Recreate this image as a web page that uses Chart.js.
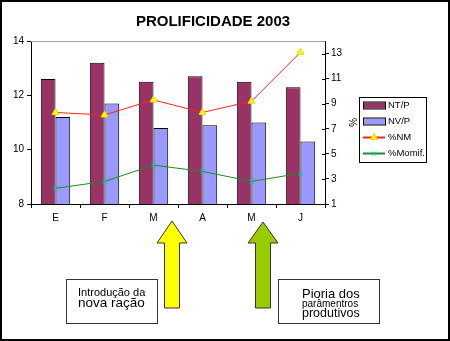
<!DOCTYPE html>
<html>
<head>
<meta charset="utf-8">
<title>Prolificidade 2003</title>
<script src="https://cdn.jsdelivr.net/npm/chart.js@4.4.0/dist/chart.umd.min.js"></script>
<style>
  html, body { margin: 0; padding: 0; background: #fff; }
  #wrap { width: 450px; height: 341px; }
</style>
</head>
<body>
<div id="wrap"><canvas id="prolChart" width="450" height="341"></canvas></div>
<script>
const months = ['E', 'F', 'M', 'A', 'M', 'J'];
const ntp = [12.6, 13.2, 12.5, 12.7, 12.5, 12.3];
const nvp = [11.2, 11.7, 10.8, 10.9, 11.0, 10.3];
const pctNM = [8.3, 8.1, 9.3, 8.3, 9.2, 13.1];
const pctMomif = [2.25, 2.8, 4.1, 3.6, 2.8, 3.45];
const leftTicks = [8, 10, 12, 14];
const rightTicks = [1, 3, 5, 7, 9, 11, 13];

const FONT = "'Liberation Sans', Arial, sans-serif";
Chart.defaults.font.family = FONT;
Chart.defaults.color = '#000';

// frame, top border of the plot, legend box and the two notes below the chart
const extras = {
  id: 'extras',
  afterDraw(chart) {
    const ctx = chart.ctx;
    const ca = chart.chartArea;
    ctx.save();

    // gray top edge of the plot area
    ctx.strokeStyle = '#a0a0a0';
    ctx.lineWidth = 1;
    ctx.beginPath();
    ctx.moveTo(ca.left, ca.top + 0.5);
    ctx.lineTo(ca.right, ca.top + 0.5);
    ctx.stroke();

    // inner tick marks on the right axis
    const y1 = chart.scales.y1;
    ctx.strokeStyle = '#000';
    y1.ticks.forEach(t => {
      const py = Math.round(y1.getPixelForValue(t.value)) + 0.5;
      ctx.beginPath();
      ctx.moveTo(ca.right - 3, py);
      ctx.lineTo(ca.right, py);
      ctx.stroke();
    });

    // legend
    const lx = 359, ly = 97, lw = 67, lh = 65;
    ctx.fillStyle = '#fff';
    ctx.fillRect(lx, ly, lw, lh);
    ctx.strokeStyle = '#000';
    ctx.strokeRect(lx + 0.5, ly + 0.5, lw, lh);
    ctx.font = '9.5px ' + FONT;
    ctx.textBaseline = 'middle';
    ctx.textAlign = 'left';
    chart.data.datasets.forEach((ds, i) => {
      const ry = 105.5 + i * 16;
      if (ds.type === 'bar') {
        ctx.fillStyle = ds.backgroundColor;
        ctx.fillRect(363, ry - 3, 22, 6);
        ctx.strokeStyle = '#000';
        ctx.strokeRect(363.5, ry - 3.5, 22, 7);
      } else {
        ctx.strokeStyle = ds.borderColor;
        ctx.lineWidth = 2;
        ctx.beginPath();
        ctx.moveTo(363, ry);
        ctx.lineTo(385, ry);
        ctx.stroke();
        ctx.lineWidth = 1;
        ctx.fillStyle = ds.pointBackgroundColor;
        ctx.strokeStyle = ds.pointBorderColor;
        Chart.helpers.drawPoint(ctx, {
          pointStyle: ds.pointStyle, radius: ds.pointRadius, rotation: 0, borderWidth: 1
        }, 374, ry);
      }
      ctx.fillStyle = '#000';
      ctx.fillText(ds.label, 388, ry);
    });

    // arrows
    const arrow = (cx, tip, headW, base, shaftW, bottom, fill) => {
      ctx.beginPath();
      ctx.moveTo(cx, tip);
      ctx.lineTo(cx + headW / 2, base);
      ctx.lineTo(cx + shaftW / 2, base);
      ctx.lineTo(cx + shaftW / 2, bottom);
      ctx.lineTo(cx - shaftW / 2, bottom);
      ctx.lineTo(cx - shaftW / 2, base);
      ctx.lineTo(cx - headW / 2, base);
      ctx.closePath();
      ctx.fillStyle = fill;
      ctx.fill();
      ctx.strokeStyle = '#333';
      ctx.lineWidth = 1;
      ctx.stroke();
    };
    arrow(172, 221, 30, 243, 15, 308, '#ffff00');
    arrow(263, 222, 30, 243, 15, 308, '#99cc00');

    // note boxes
    const note = (x, y, w, h, lines) => {
      ctx.fillStyle = '#fff';
      ctx.fillRect(x, y, w, h);
      ctx.strokeStyle = '#333';
      ctx.lineWidth = 1;
      ctx.strokeRect(x + 0.5, y + 0.5, w, h);
      ctx.fillStyle = '#000';
      ctx.textBaseline = 'middle';
      lines.forEach(l => {
        ctx.font = l.size + 'px ' + FONT;
        ctx.fillText(l.text, l.x, l.y);
      });
    };
    note(66, 279, 91, 44, [
      { text: 'Introdução da', size: 11, x: 78, y: 293 },
      { text: 'nova ração', size: 13.5, x: 78, y: 303.5 }
    ]);
    note(278, 279, 101, 44, [
      { text: 'Pioria dos', size: 13, x: 302, y: 294 },
      { text: 'parâmentros', size: 10, x: 302, y: 304.5 },
      { text: 'produtivos', size: 12.5, x: 302, y: 314 }
    ]);

    // outer frame
    ctx.strokeStyle = '#000';
    ctx.lineWidth = 2;
    ctx.strokeRect(1, 1, 448, 339);
    ctx.restore();
  }
};

new Chart(document.getElementById('prolChart'), {
  data: {
    labels: months,
    datasets: [
      {
        type: 'bar', label: 'NT/P', data: ntp, yAxisID: 'y', order: 2,
        backgroundColor: '#993366', borderColor: '#000', borderWidth: 1,
        categoryPercentage: 0.6, barPercentage: 1
      },
      {
        type: 'bar', label: 'NV/P', data: nvp, yAxisID: 'y', order: 2,
        backgroundColor: '#9999ff', borderColor: '#000', borderWidth: 1,
        categoryPercentage: 0.6, barPercentage: 1
      },
      {
        type: 'line', label: '%NM', data: pctNM, yAxisID: 'y1', order: 1,
        borderColor: '#ff2020', borderWidth: 1, tension: 0,
        pointStyle: 'triangle', pointRadius: 4,
        pointBackgroundColor: '#ffff00', pointBorderColor: '#e0e000'
      },
      {
        type: 'line', label: '%Momif.', data: pctMomif, yAxisID: 'y1', order: 1,
        borderColor: '#1e8c1e', borderWidth: 1, tension: 0,
        pointStyle: 'crossRot', pointRadius: 3,
        pointBackgroundColor: '#00c8d8', pointBorderColor: '#00c8d8'
      }
    ]
  },
  options: {
    responsive: false,
    devicePixelRatio: 1,
    animation: false,
    // right padding keeps the title centred over the whole picture
    layout: { padding: { top: 0, right: 24, bottom: 117, left: 0 } },
    plugins: {
      legend: { display: false },
      tooltip: { enabled: false },
      title: {
        display: true,
        text: 'PROLIFICIDADE 2003',
        color: '#000',
        font: { size: 15, weight: 'bold' },
        padding: { top: 13, bottom: 10 }
      }
    },
    scales: {
      x: {
        offset: true,
        grid: { offset: true, drawOnChartArea: false, tickLength: 4, color: '#000' },
        border: { color: '#000' },
        ticks: { font: { size: 10 }, padding: 4, maxRotation: 0 },
        afterFit: s => { s.height = 20; }
      },
      y: {
        position: 'left',
        min: 8, max: 14,
        afterBuildTicks: s => { s.ticks = leftTicks.map(v => ({ value: v })); },
        grid: { drawOnChartArea: false, tickLength: 4, color: '#000' },
        border: { color: '#000' },
        ticks: { font: { size: 10 }, padding: 3 },
        afterFit: s => { s.width = 31; }
      },
      y1: {
        position: 'right',
        min: 1, max: 14,
        afterBuildTicks: s => { s.ticks = rightTicks.map(v => ({ value: v })); },
        grid: { drawOnChartArea: false, tickLength: 4, color: '#000' },
        border: { color: '#000' },
        ticks: { font: { size: 10 }, padding: 2 },
        // title sits just past the tick labels, left of the legend
        title: { display: true, text: '%', font: { size: 10 }, padding: { top: 68, bottom: 0 } },
        afterFit: s => { s.width = 101; }
      }
    }
  },
  plugins: [extras]
});
</script>
</body>
</html>
